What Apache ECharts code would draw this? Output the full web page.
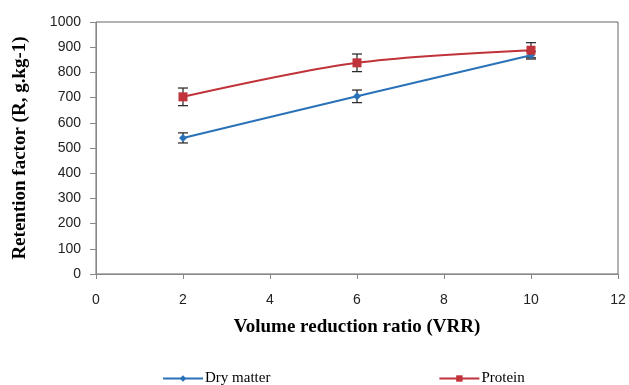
<!DOCTYPE html>
<html>
<head>
<meta charset="utf-8">
<script src="https://cdn.jsdelivr.net/npm/echarts@6/dist/echarts.min.js"></script>
<style>
  html, body { margin: 0; padding: 0; background: #fff; }
  #chart { width: 629px; height: 385px; }
</style>
</head>
<body>
<div id="chart"></div>
<script>
const vrr = [2, 6, 10]
const dryMatter = [540, 705, 868]
const dryMatterErr = [20, 25, 15]
const protein = [703, 838, 888]
const proteinErr = [35, 35, 30]
const xTicks = [0, 2, 4, 6, 8, 10, 12]
const yTicks = [0, 100, 200, 300, 400, 500, 600, 700, 800, 900, 1000]

const errorSeries = (name, values, errs) => ({
  name: name + ' err',
  type: 'custom',
  silent: true,
  z: 3,
  renderItem: (params, api) => {
    const x = api.value(0)
    const hi = api.coord([x, api.value(1)])
    const lo = api.coord([x, api.value(2)])
    const w = 5
    const style = { stroke: '#222', lineWidth: 1.2 }
    return {
      type: 'group',
      children: [
        { type: 'line', shape: { x1: hi[0], y1: hi[1], x2: lo[0], y2: lo[1] }, style },
        { type: 'line', shape: { x1: hi[0] - w, y1: hi[1], x2: hi[0] + w, y2: hi[1] }, style },
        { type: 'line', shape: { x1: lo[0] - w, y1: lo[1], x2: lo[0] + w, y2: lo[1] }, style },
      ],
    }
  },
  data: vrr.map((x, i) => [x, values[i] + errs[i], values[i] - errs[i]]),
})

const chart = echarts.init(document.getElementById('chart'))
chart.setOption({
  animation: false,
  grid: {
    left: 96, right: 11, top: 22, bottom: 111,
    outerBoundsMode: 'none',
    containLabel: false,
    show: true, borderColor: '#666', borderWidth: 1,
  },
  legend: {
    top: 366,
    left: 157,
    itemGap: 168,
    itemWidth: 40,
    itemHeight: 8,
    textStyle: { fontFamily: 'Liberation Serif', fontSize: 15, color: '#000', padding: [0, 0, 0, -3] },
    data: ['Dry matter', 'Protein'],
  },
  xAxis: {
    type: 'value',
    min: 0, max: 12, interval: 2,
    name: 'Volume reduction ratio (VRR)',
    nameLocation: 'middle',
    nameGap: 44,
    nameTextStyle: { fontFamily: 'Liberation Serif', fontWeight: 'bold', fontSize: 19, color: '#000' },
    axisLine: { lineStyle: { color: '#888' } },
    axisTick: { show: true, inside: false, length: 5, lineStyle: { color: '#888' } },
    axisLabel: { color: '#222', fontSize: 14, fontFamily: 'Liberation Sans', margin: 19,
      formatter: (v) => (xTicks.includes(v) ? String(v) : '') },
    splitLine: { show: false },
  },
  yAxis: {
    type: 'value',
    min: 0, max: 1000, interval: 100,
    name: 'Retention factor (R, g.kg-1)',
    nameLocation: 'middle',
    nameGap: 66,
    nameTextStyle: { fontFamily: 'Liberation Serif', fontWeight: 'bold', fontSize: 19, color: '#000' },
    axisLine: { show: true, lineStyle: { color: '#888' } },
    axisTick: { show: true, inside: false, length: 6, lineStyle: { color: '#888' } },
    axisLabel: { color: '#222', fontSize: 14, fontFamily: 'Liberation Sans', margin: 15,
      formatter: (v) => (yTicks.includes(v) ? String(v) : '') },
    splitLine: { show: false },
  },
  series: [
    {
      name: 'Dry matter',
      type: 'line',
      smooth: 0.3,
      symbol: 'diamond',
      symbolSize: 8,
      color: '#2a72b8',
      lineStyle: { width: 2 },
      data: vrr.map((x, i) => [x, dryMatter[i]]),
    },
    {
      name: 'Protein',
      type: 'line',
      smooth: 0.3,
      symbol: 'rect',
      symbolSize: 9,
      color: '#c0333a',
      lineStyle: { width: 2 },
      data: vrr.map((x, i) => [x, protein[i]]),
    },
    errorSeries('Dry matter', dryMatter, dryMatterErr),
    errorSeries('Protein', protein, proteinErr),
  ],
})
</script>
</body>
</html>
